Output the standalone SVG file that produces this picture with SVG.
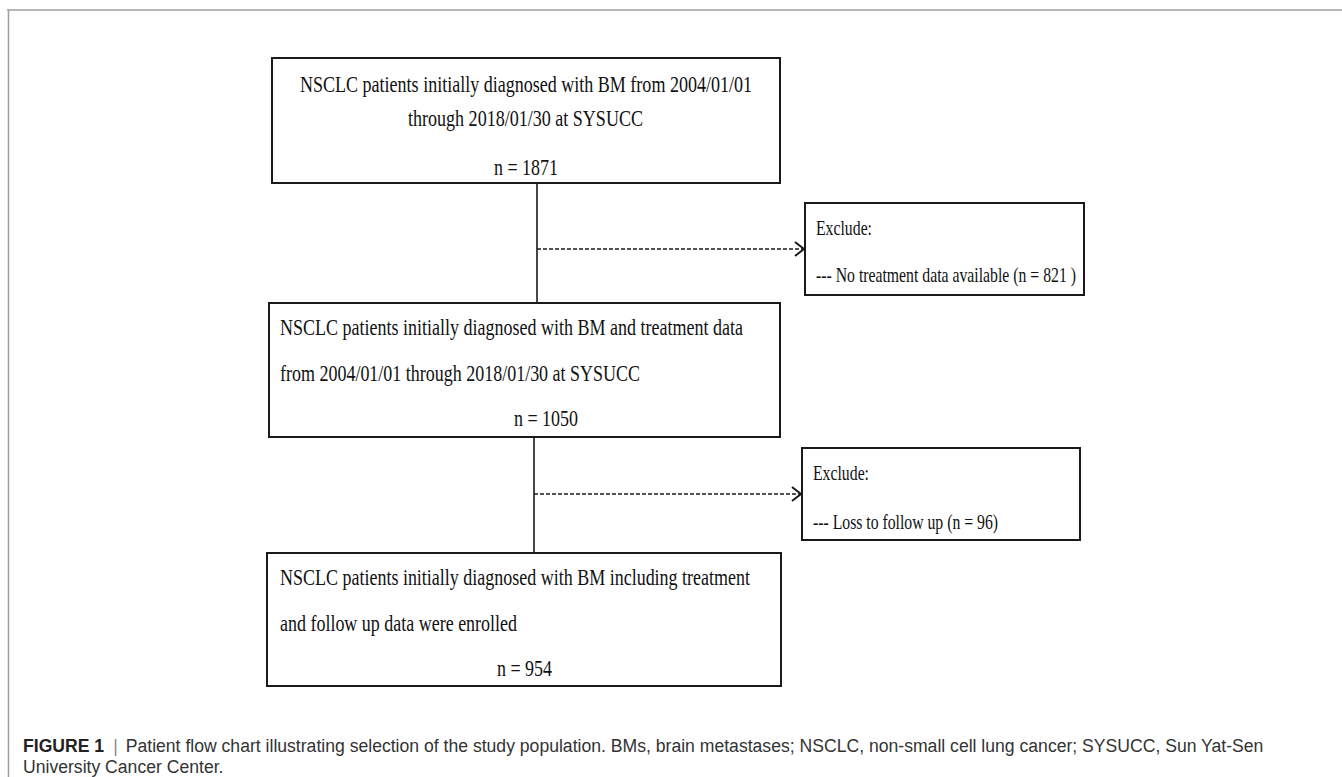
<svg xmlns="http://www.w3.org/2000/svg" width="1342" height="777" viewBox="0 0 1342 777">
  <style>
    .box { fill: #ffffff; stroke: #1a1a1a; stroke-width: 2; }
    .t { font-family: "Liberation Serif", "Times New Roman", serif; font-size: 24px; fill: #111; }
    .ts { font-family: "Liberation Serif", "Times New Roman", serif; font-size: 21px; fill: #111; }
    .line { stroke: #1a1a1a; stroke-width: 1.6; fill: none; }
    .dash { stroke: #1a1a1a; stroke-width: 1.6; fill: none; stroke-dasharray: 4 2; }
    .cap { font-family: "Liberation Sans", Arial, sans-serif; font-size: 17.6px; fill: #333; }
  </style>
  <defs>
    <marker id="chev" markerWidth="12" markerHeight="16" refX="10" refY="8" orient="auto" markerUnits="userSpaceOnUse">
      <path d="M1,1 L10,8 L1,15" fill="none" stroke="#1a1a1a" stroke-width="2"/>
    </marker>
  </defs>
  <rect x="0" y="0" width="1342" height="777" fill="#ffffff"/>
  <g id="frame">
    <line x1="7" y1="10" x2="1342" y2="10" stroke="#a0a0a0" stroke-width="1.5"/>
    <line x1="8.5" y1="10" x2="8.5" y2="777" stroke="#a0a0a0" stroke-width="1.5"/>
  </g>
  <g id="connectors">
    <line class="line" x1="537" y1="183" x2="537" y2="303"/>
    <line class="dash" x1="537" y1="249" x2="804" y2="249" marker-end="url(#chev)"/>
    <line class="line" x1="534" y1="437" x2="534" y2="553"/>
    <line class="dash" x1="534" y1="494" x2="801" y2="494" marker-end="url(#chev)"/>
  </g>
  <g id="node1">
    <rect class="box" x="272" y="58" width="508" height="125"/>
    <text class="t" x="300" y="92" textLength="452" lengthAdjust="spacingAndGlyphs">NSCLC patients initially diagnosed with BM from 2004/01/01</text>
    <text class="t" x="408" y="126" textLength="235" lengthAdjust="spacingAndGlyphs">through 2018/01/30 at SYSUCC</text>
    <text class="t" x="494" y="175" textLength="64" lengthAdjust="spacingAndGlyphs">n = 1871</text>
  </g>
  <g id="exclude1">
    <rect class="box" x="805" y="203" width="279" height="92"/>
    <text class="ts" x="816" y="235" textLength="56" lengthAdjust="spacingAndGlyphs">Exclude:</text>
    <text class="ts" x="816" y="282" textLength="260" lengthAdjust="spacingAndGlyphs">--- No treatment data available (n = 821 )</text>
  </g>
  <g id="node2">
    <rect class="box" x="269" y="303" width="511" height="134"/>
    <text class="t" x="280" y="335" textLength="463" lengthAdjust="spacingAndGlyphs">NSCLC patients initially diagnosed with BM and treatment data</text>
    <text class="t" x="280" y="381" textLength="360" lengthAdjust="spacingAndGlyphs">from 2004/01/01 through 2018/01/30 at SYSUCC</text>
    <text class="t" x="514" y="426" textLength="64" lengthAdjust="spacingAndGlyphs">n = 1050</text>
  </g>
  <g id="exclude2">
    <rect class="box" x="802" y="448" width="278" height="92"/>
    <text class="ts" x="813" y="480" textLength="56" lengthAdjust="spacingAndGlyphs">Exclude:</text>
    <text class="ts" x="813" y="529" textLength="185" lengthAdjust="spacingAndGlyphs">--- Loss to follow up (n = 96)</text>
  </g>
  <g id="node3">
    <rect class="box" x="267" y="553" width="514" height="133"/>
    <text class="t" x="280" y="585" textLength="470" lengthAdjust="spacingAndGlyphs">NSCLC patients initially diagnosed with BM including treatment</text>
    <text class="t" x="280" y="631" textLength="237" lengthAdjust="spacingAndGlyphs">and follow up data were enrolled</text>
    <text class="t" x="497" y="676" textLength="55" lengthAdjust="spacingAndGlyphs">n = 954</text>
  </g>
  <g id="caption">
    <text class="cap" x="23" y="752"><tspan font-weight="bold" fill="#222">FIGURE 1</tspan><tspan fill="#888" dx="9">|</tspan><tspan dx="8">Patient flow chart illustrating selection of the study population. BMs, brain metastases; NSCLC, non-small cell lung cancer; SYSUCC, Sun Yat-Sen</tspan></text>
    <text class="cap" x="23" y="773">University Cancer Center.</text>
  </g>
</svg>
